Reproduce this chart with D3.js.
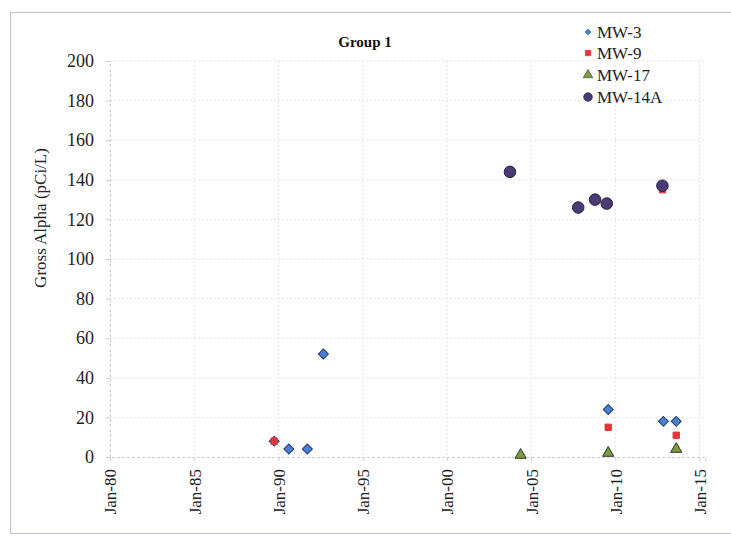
<!DOCTYPE html>
<html><head><meta charset="utf-8">
<script src="https://cdn.jsdelivr.net/npm/d3@7"></script>
<style>body{margin:0;background:#fff}svg{display:block}</style>
</head><body>
<svg id="c" width="731" height="537"></svg>
<script>
const seriesNames = ["MW-3","MW-9","MW-17","MW-14A"];
const mw3Dates = ["1989-10-01","1990-08-15","1991-09-20","1992-09-01","2009-08-01","2012-11-10","2013-08-15"];
const mw3Values = [8,4,4,52,24,18,18];
const mw9Dates = ["1989-10-01","2009-08-01","2012-10-20","2013-08-15"];
const mw9Values = [8,15,135,11];
const mw17Dates = ["2004-05-20","2009-08-01","2013-08-15"];
const mw17Values = [1,2,4];
const mw14aDates = ["2003-10-01","2007-10-20","2008-10-20","2009-07-01","2012-10-20"];
const mw14aValues = [144,126,130,128,137];
const yTicks = [0,20,40,60,80,100,120,140,160,180,200];
const xTickYears = [1980,1985,1990,1995,2000,2005,2010,2015];

const svg = d3.select("#c");
const M = {left:110, right:705, top:61, bottom:457};
const parse = d3.utcParse("%Y-%m-%d");
const x = d3.scaleUtc().domain([new Date(Date.UTC(1980,0,1)), new Date(Date.UTC(2015,4,1))]).range([M.left, M.right]);
const y = d3.scaleLinear().domain([0,200]).range([M.bottom, M.top]);
const serif = "'Liberation Serif','Times New Roman',serif";

// outer frame
svg.append("rect").attr("x",10.5).attr("y",12.5).attr("width",740).attr("height",521)
  .attr("fill","none").attr("stroke","#c9c3d6").attr("stroke-width",1.2);

// gridlines
const xTickDates = xTickYears.map(yr => new Date(Date.UTC(yr,0,1)));
svg.append("g").selectAll("line").data(yTicks.filter(d=>d>0)).join("line")
  .attr("x1",M.left).attr("x2",M.right).attr("y1",d=>y(d)).attr("y2",d=>y(d))
  .attr("stroke","#e6e3ec").attr("stroke-dasharray","2,2").attr("stroke-width",1);
svg.append("g").selectAll("line").data(xTickDates.slice(1)).join("line")
  .attr("x1",d=>x(d)).attr("x2",d=>x(d)).attr("y1",M.top).attr("y2",M.bottom)
  .attr("stroke","#e6e3ec").attr("stroke-dasharray","2,2").attr("stroke-width",1);

// axes
const yAxis = d3.axisLeft(y).tickValues(yTicks).tickSize(4).tickPadding(12);
const gy = svg.append("g").attr("transform",`translate(${M.left},0)`).call(yAxis);
gy.select(".domain").attr("stroke","#cfc8e0").attr("stroke-dasharray","3,2");
gy.selectAll(".tick line").attr("stroke","#cfc8e0");
gy.selectAll("text").attr("font-family",serif).attr("font-size",18).attr("fill","#222");

const xAxis = d3.axisBottom(x).tickValues(xTickDates).tickFormat(d3.utcFormat("Jan-%y")).tickSize(4);
const gx = svg.append("g").attr("transform",`translate(0,${M.bottom})`).call(xAxis);
gx.select(".domain").attr("stroke","#cfc8e0").attr("stroke-dasharray","3,2");
gx.selectAll(".tick line").attr("stroke","#cfc8e0");
gx.selectAll("text").attr("font-family",serif).attr("font-size",17).attr("fill","#222")
  .attr("transform","rotate(-90)").attr("text-anchor","end").attr("dx","-12px").attr("dy","0.35em").attr("y",0).attr("x",0);

// title & axis label
svg.append("text").attr("x",365).attr("y",47).attr("text-anchor","middle")
  .attr("font-family",serif).attr("font-weight","bold").attr("font-size",15).attr("fill","#111").text("Group 1");
svg.append("text").attr("transform","translate(46,218) rotate(-90)").attr("text-anchor","middle")
  .attr("font-family",serif).attr("font-size",17).attr("fill","#222").text("Gross Alpha (pCi/L)");

// markers
const sym = {
  "MW-3": {type:d3.symbolSquare, rot:45, size:50, fill:"#4a7fd6", stroke:"#223a66"},
  "MW-9": {type:d3.symbolSquare, rot:0, size:40, fill:"#e5333a", stroke:"#e5333a"},
  "MW-17": {type:d3.symbolTriangle, rot:0, size:55, fill:"#7c9a45", stroke:"#2f3a1c"},
  "MW-14A": {type:d3.symbolCircle, rot:0, size:105, fill:"#4a3a75", stroke:"#2a2040"}
};
const data = [
  ["MW-3", mw3Dates, mw3Values],
  ["MW-9", mw9Dates, mw9Values],
  ["MW-17", mw17Dates, mw17Values],
  ["MW-14A", mw14aDates, mw14aValues]
];
data.forEach(([n, ds, vs]) => {
  const s = sym[n];
  const pts = ds.map((d,i)=>({d:parse(d), v:vs[i]}));
  svg.append("g").selectAll("path").data(pts).join("path")
    .attr("d", d3.symbol().type(s.type).size(s.size))
    .attr("transform", p => `translate(${x(p.d)},${y(p.v)}) rotate(${s.rot})`)
    .attr("fill", s.fill).attr("stroke", s.stroke).attr("stroke-width",1);
});

// legend
const lg = svg.append("g");
const ly = [32,53,75,97];
seriesNames.forEach((n,i) => {
  const s = sym[n];
  const sz = n==="MW-14A" ? 60 : (n==="MW-9" ? 30 : (n==="MW-3" ? 24 : 40));
  lg.append("path").attr("d", d3.symbol().type(s.type).size(sz))
    .attr("transform", `translate(588,${ly[i]}) rotate(${s.rot})`).attr("fill", s.fill).attr("stroke", n==="MW-3"?"none":s.stroke).attr("stroke-width",0.6);
  lg.append("text").attr("x",597).attr("y",ly[i]).attr("dy","0.35em")
    .attr("font-family",serif).attr("font-size",17).attr("fill","#222").text(n);
});
</script>
</body></html>
